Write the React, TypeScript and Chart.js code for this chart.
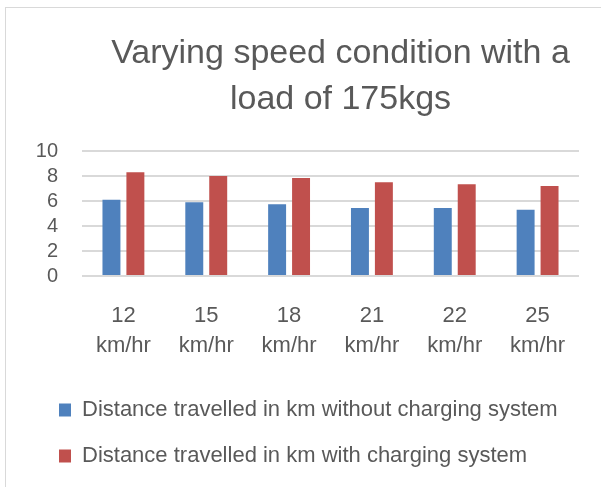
import React, { useEffect, useRef } from 'react';
import { Chart, registerables } from 'chart.js';

Chart.register(...registerables);

const titleLines = ['Varying speed condition with a', 'load of 175kgs'];
const speeds = ['12', '15', '18', '21', '22', '25'];
const speedUnit = 'km/hr';
const seriesNames = [
  'Distance travelled in km without charging system',
  'Distance travelled in km with charging system',
];
const withoutCharging = [6.1, 5.9, 5.75, 5.45, 5.45, 5.3];
const withCharging = [8.3, 8.0, 7.85, 7.5, 7.35, 7.2];
const yMin = 0;
const yMax = 10;
const yStep = 2;

const FONT = "'Liberation Sans', Arial, sans-serif";
const TEXT = '#595959';

export default function App() {
  const ref = useRef<HTMLCanvasElement | null>(null);

  useEffect(() => {
    if (!ref.current) return;
    const chart = new Chart(ref.current, {
      type: 'bar',
      data: {
        labels: speeds.map((s) => [s, speedUnit]),
        datasets: [
          {
            label: seriesNames[0],
            data: withoutCharging,
            backgroundColor: '#4F81BD',
            borderWidth: 0,
            yAxisID: 'y',
            categoryPercentage: 0.578,
            barPercentage: 0.75,
          },
          {
            label: seriesNames[1],
            data: withCharging,
            backgroundColor: '#C0504D',
            borderWidth: 0,
            yAxisID: 'y',
            categoryPercentage: 0.578,
            barPercentage: 0.75,
          },
        ],
      },
      options: {
        responsive: false,
        animation: false,
        devicePixelRatio: 1,
        layout: { padding: { left: 35, right: 0, top: 0, bottom: 10 } },
        plugins: {
          title: {
            display: true,
            text: titleLines,
            color: TEXT,
            font: { family: FONT, size: 34, weight: 'normal', lineHeight: '46px' },
            padding: { top: 31, bottom: 28 },
          },
          legend: {
            display: true,
            position: 'bottom',
            align: 'start',
            labels: {
              color: TEXT,
              font: { family: FONT, size: 22 },
              boxWidth: 12,
              boxHeight: 13,
              padding: 24,
            },
          },
          tooltip: { enabled: false },
        },
        scales: {
          x: {
            grid: { display: false, drawTicks: false },
            border: { display: false },
            ticks: {
              color: TEXT,
              font: { family: FONT, size: 22, lineHeight: '30px' },
              padding: 25,
              maxRotation: 0,
              autoSkip: false,
            },
            afterFit: (s: any) => {
              s.height = 99;
            },
          },
          y: {
            position: 'left',
            min: yMin,
            max: yMax,
            grid: { color: '#D9D9D9', lineWidth: 2, drawTicks: false },
            border: { display: false },
            ticks: {
              stepSize: yStep,
              autoSkip: false,
              color: TEXT,
              font: { family: FONT, size: 20 },
              padding: 24,
            },
            afterFit: (s: any) => {
              s.width = 47;
            },
          },
          yR: {
            type: 'linear',
            position: 'right',
            display: true,
            grid: { display: false, drawTicks: false },
            border: { display: false },
            ticks: { display: false },
            afterFit: (s: any) => {
              s.width = 67;
            },
          },
        },
      } as any,
    });
    return () => chart.destroy();
  }, []);

  return (
    <div
      style={{
        position: 'absolute',
        left: 0,
        top: 0,
        width: 601,
        height: 487,
        overflow: 'hidden',
        background: '#ffffff',
      }}
    >
      <div
        style={{
          position: 'absolute',
          left: 5,
          top: 7,
          width: 700,
          height: 600,
          border: '1px solid #D9D9D9',
          boxSizing: 'border-box',
        }}
      />
      <canvas
        ref={ref}
        width={646}
        height={487}
        style={{ position: 'absolute', left: 0, top: 0, width: 646, height: 487, display: 'block' }}
      />
    </div>
  );
}
